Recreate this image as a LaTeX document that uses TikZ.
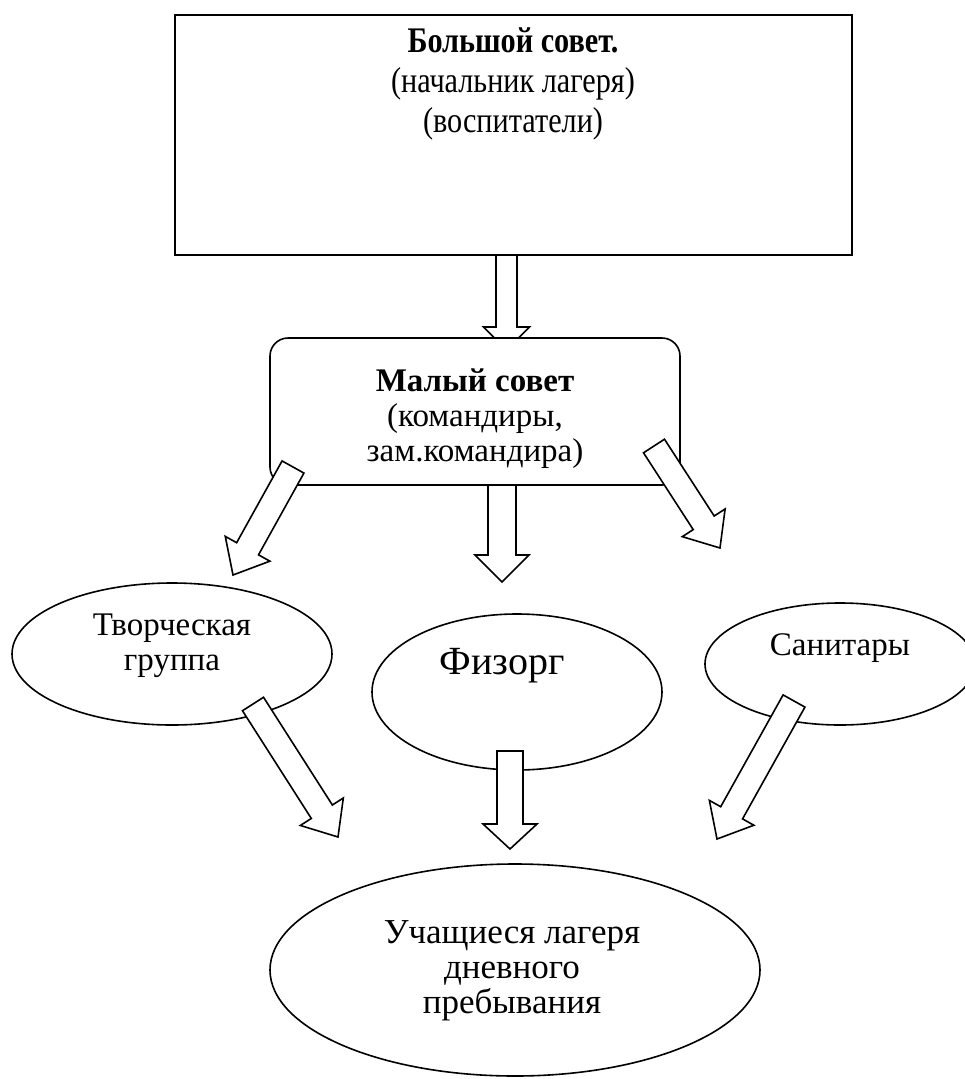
\documentclass[tikz,border=0pt]{standalone}
\usepackage{fontspec}
\setmainfont{Liberation Serif}
\newfontfamily\narrowserif[FakeStretch=0.84]{Liberation Serif}
\usetikzlibrary{shapes.geometric,calc}

\tikzset{
    box/.style={draw, line width=1.6pt, fill=white, inner sep=0pt},
    oval/.style={draw, ellipse, line width=1.6pt, fill=white, inner sep=0pt},
    txt/.style={align=center, inner sep=0pt, font=\fontsize{33}{35}\selectfont},
}

% block arrow: shaft half width, head half width, head length, tail, tip
\newcommand{\blockarrow}[5]{%
    \path let \p1=($(#5)-(#4)$) in
        \pgfextra{\pgfmathsetmacro\ArrAng{atan2(\y1,\x1)}%
                  \pgfmathsetmacro\ArrLen{veclen(\x1,\y1)}%
                  \global\let\ArrAng\ArrAng \global\let\ArrLen\ArrLen};
    \begin{scope}[shift={(#4)}, rotate=\ArrAng, x=1pt, y=1pt]
        \draw[line width=1.6pt, fill=white, line join=miter]
            (0,-#1) -- ({\ArrLen-#3},-#1) -- ({\ArrLen-#3},-#2) -- (\ArrLen,0)
            -- ({\ArrLen-#3},#2) -- ({\ArrLen-#3},#1) -- (0,#1) -- cycle;
    \end{scope}}

\begin{document}
\begin{tikzpicture}[x=1pt, y=-1pt]

    % the frame
    \clip (0,0) rectangle (965,1079);

    % big council
    \node[box, minimum width=677pt, minimum height=240pt] (bigsovet) at (513.5,135) {};
    \node[txt, font=\fontsize{36}{40}\selectfont\narrowserif] (bigsovettxt) at (513,84)
        {\textbf{Большой совет.}\\(начальник лагеря)\\(воспитатели)};

    \coordinate (a1s) at (506.5,255);
    \coordinate (a1e) at (506.5,350);
    \blockarrow{10.5}{23}{23}{a1s}{a1e}

    % small council
    \node[box, rounded corners=18pt, minimum width=410pt, minimum height=147pt] (malsovet) at (475,411.5) {};
    \node[txt] (malsovettxt) at (475,419) {\textbf{Малый совет}\\(командиры,\\зам.командира)};

    \coordinate (a2s) at (293,467);
    \coordinate (a2e) at (233,575);
    \coordinate (a3s) at (502,485);
    \coordinate (a3e) at (502,582);
    \coordinate (a4s) at (654,446);
    \coordinate (a4e) at (720,548);
    \blockarrow{12.5}{25.5}{30}{a2s}{a2e}
    \blockarrow{14}{27}{27}{a3s}{a3e}
    \blockarrow{12.5}{25.5}{30}{a4s}{a4e}

    % groups
    \node[oval, minimum width=320pt, minimum height=142pt] (tvorch) at (172,654) {};
    \node[txt] (tvorchtxt) at (172,646) {Творческая\\группа};

    \node[oval, minimum width=290pt, minimum height=156pt] (fizorg) at (517,692) {};
    \node[txt, font=\fontsize{40}{42}\selectfont] (fizorgtxt) at (502,666) {Физорг};

    \node[oval, minimum width=270pt, minimum height=122pt] (sanit) at (840,664) {};
    \node[txt] (sanittxt) at (840,648) {Санитары};

    \coordinate (a5s) at (253,704);
    \coordinate (a5e) at (338,837);
    \coordinate (a6s) at (510,751);
    \coordinate (a6e) at (510,849);
    \coordinate (a7s) at (794,701);
    \coordinate (a7e) at (717,839);
    \blockarrow{12.5}{25.5}{30}{a5s}{a5e}
    \blockarrow{13}{27}{25}{a6s}{a6e}
    \blockarrow{12.5}{25.5}{30}{a7s}{a7e}

    % pupils
    \node[oval, minimum width=490pt, minimum height=212pt] (uchash) at (515,970) {};
    \node[txt, font=\fontsize{35}{35}\selectfont] (uchashtxt) at (512,971) {Учащиеся лагеря\\дневного\\пребывания};

\end{tikzpicture}
\end{document}
